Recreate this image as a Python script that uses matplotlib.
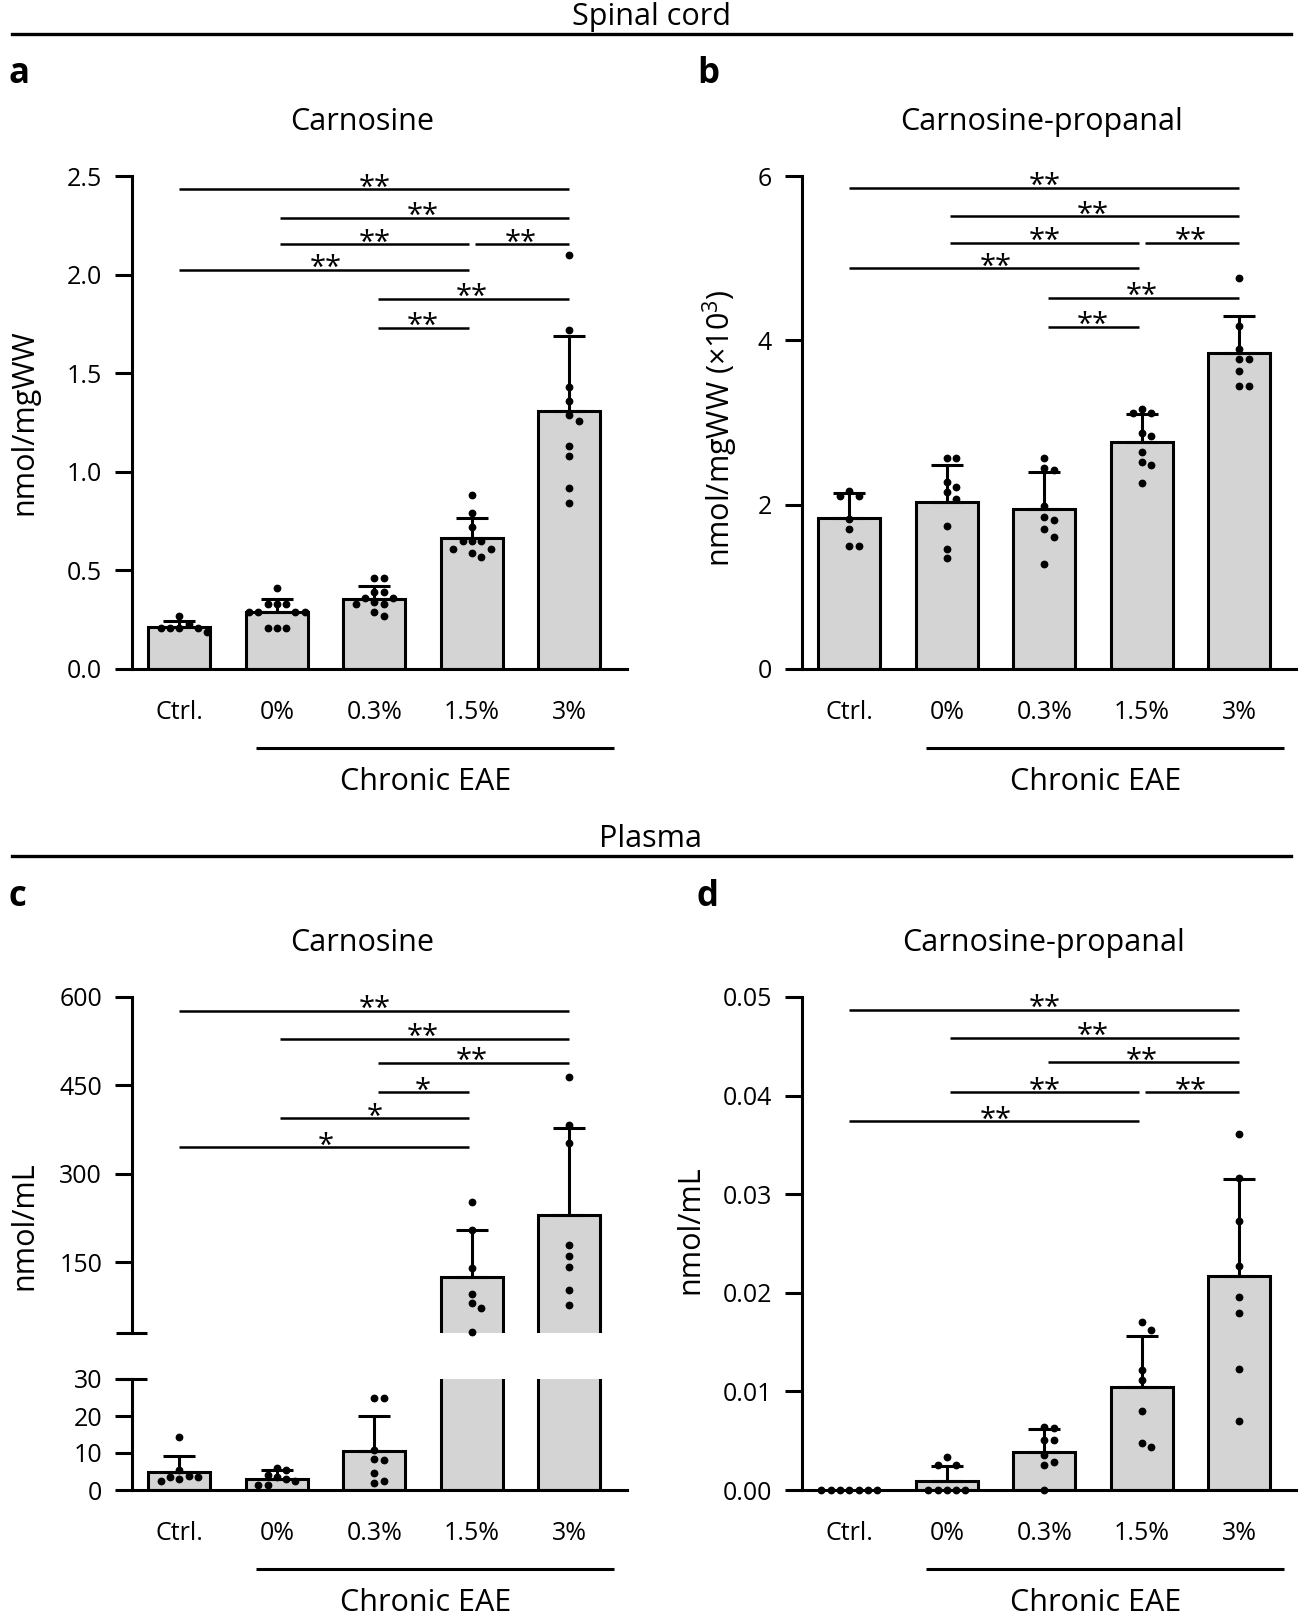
import matplotlib
matplotlib.use('Agg')
import matplotlib.pyplot as plt
import matplotlib.transforms as mtransforms
from matplotlib.lines import Line2D

plt.rcParams['font.family'] = ['Open Sans', 'DejaVu Sans']
plt.rcParams['mathtext.fontset'] = 'custom'
plt.rcParams['mathtext.rm'] = 'Open Sans'

W, H = 1298, 1613

groups = ['Ctrl.', '0%', '0.3%', '1.5%', '3%']

# a: spinal cord carnosine (nmol/mgWW)
sc_carn_mean = [0.211, 0.287, 0.355, 0.662, 1.307]
sc_carn_sd = [0.034, 0.066, 0.065, 0.105, 0.382]
sc_carn_pts = [
    [0.27, 0.23, 0.21, 0.21, 0.21, 0.21, 0.19],
    [0.41, 0.33, 0.33, 0.33, 0.29, 0.29, 0.29, 0.29, 0.21, 0.21, 0.21],
    [0.46, 0.46, 0.39, 0.39, 0.36, 0.36, 0.34, 0.33, 0.33, 0.29, 0.27],
    [0.88, 0.79, 0.72, 0.65, 0.65, 0.65, 0.61, 0.61, 0.59, 0.57],
    [2.10, 1.72, 1.43, 1.36, 1.29, 1.26, 1.13, 1.08, 0.92, 0.84],
]
sc_carn_sig = [(0, 4, 2.432, '**'), (1, 4, 2.288, '**'), (1, 3, 2.153, '**'),
               (3, 4, 2.153, '**'), (0, 3, 2.025, '**'), (2, 4, 1.878, '**'),
               (2, 3, 1.729, '**')]

# b: spinal cord carnosine-propanal (nmol/mgWW x10^3)
sc_cp_mean = [1.833, 2.037, 1.951, 2.767, 3.844]
sc_cp_sd = [0.305, 0.447, 0.447, 0.342, 0.456]
sc_cp_pts = [
    [2.17, 2.11, 2.10, 1.83, 1.70, 1.50, 1.50],
    [2.57, 2.57, 2.27, 2.22, 2.16, 2.07, 1.74, 1.46, 1.35],
    [2.57, 2.45, 2.42, 1.98, 1.85, 1.81, 1.70, 1.61, 1.28],
    [3.17, 3.12, 3.12, 2.87, 2.83, 2.64, 2.52, 2.48, 2.26],
    [4.76, 4.18, 3.89, 3.77, 3.77, 3.63, 3.44, 3.44],
]
sc_cp_sig = [(0, 4, 5.855, '**'), (1, 4, 5.51, '**'), (1, 3, 5.185, '**'),
             (3, 4, 5.185, '**'), (0, 3, 4.876, '**'), (2, 4, 4.52, '**'),
             (2, 3, 4.165, '**')]

# c: plasma carnosine (nmol/mL), broken axis
pl_carn_mean = [4.8, 3.0, 10.5, 124.6, 230.6]
pl_carn_sd = [4.5, 2.3, 9.5, 80.4, 147.4]
pl_carn_pts = [
    [14.3, 5.5, 3.8, 3.6, 3.5, 3.0, 2.5],
    [5.9, 5.5, 4.1, 3.6, 3.0, 2.5, 1.4, 1.4],
    [25.0, 24.8, 10.9, 8.5, 8.0, 4.5, 2.5, 2.0],
    [252, 205, 141, 96, 81, 73, 31],
    [464, 383, 352, 179, 161, 142, 103, 78],
]
pl_carn_sig = [(0, 4, 577, '**'), (1, 4, 529, '**'), (2, 4, 488, '**'),
               (2, 3, 438, '*'), (1, 3, 394, '*'), (0, 3, 345, '*')]

# d: plasma carnosine-propanal (nmol/mL)
pl_cp_mean = [0.0, 0.00091, 0.00382, 0.01042, 0.02175]
pl_cp_sd = [0.0, 0.00156, 0.00234, 0.00521, 0.00981]
pl_cp_pts = [
    [0, 0, 0, 0, 0, 0, 0],
    [0.0033, 0.0025, 0.0025, 0, 0, 0, 0, 0],
    [0.0064, 0.0063, 0.0051, 0.0051, 0.0036, 0.0028, 0.0025, 0],
    [0.0170, 0.0162, 0.0122, 0.0112, 0.0080, 0.0048, 0.0044],
    [0.0361, 0.0316, 0.0273, 0.0227, 0.0196, 0.0180, 0.0123, 0.0070],
]
pl_cp_sig = [(0, 4, 0.04871, '**'), (1, 4, 0.04584, '**'), (2, 4, 0.04337, '**'),
             (1, 3, 0.04032, '**'), (3, 4, 0.04032, '**'), (0, 3, 0.03738, '**')]

XLIM = (-0.485, 4.59)
LW = 2.2
BAR_W = 0.635
BAR_COLOR = '#d4d4d4'
TICK_FS = 18
LABEL_FS = 22


def px_box(left, top, right, bottom):
    return [left / W, 1 - bottom / H, (right - left) / W, (bottom - top) / H]


def swarm_x(ax, xc, values, spacing=9.3):
    # simple beeswarm in pixel space
    pos = ax.get_position()
    ylo, yhi = ax.get_ylim()
    yscale = pos.height * H / (yhi - ylo)
    xscale = pos.width * W / (XLIM[1] - XLIM[0])
    cands = [0] + [s * i for i in range(1, 10) for s in (1, -1)]
    placed, xs = [], []
    for v in values:
        py = (v - ylo) * yscale
        for c in cands:
            px = c * spacing
            if all((px - qx) ** 2 + (py - qy) ** 2 >= (spacing * 0.9) ** 2 for qx, qy in placed):
                break
        placed.append((px, py))
        xs.append(xc + px / xscale)
    return xs


def style_axes(ax, ylim, yticks, fmt, xlabels=True):
    ax.set_xlim(XLIM)
    ax.set_ylim(ylim)
    ax.spines[['top', 'right']].set_visible(False)
    ax.spines['left'].set_linewidth(LW)
    ax.spines['bottom'].set_linewidth(LW)
    ax.set_yticks(yticks)
    ax.set_yticklabels([fmt.format(t) for t in yticks])
    ax.tick_params(axis='y', length=12.5, width=LW, pad=9, labelsize=TICK_FS)
    ax.set_xticks(range(len(groups)))
    if xlabels:
        ax.set_xticklabels(groups)
        ax.tick_params(axis='x', length=0, pad=22, labelsize=TICK_FS)
    else:
        ax.set_xticklabels([])
        ax.tick_params(axis='x', length=0)
        ax.spines['bottom'].set_visible(False)


def draw_bars(ax, means, sds, pts, lo=None, hi=None):
    x = list(range(len(means)))
    ax.bar(x, means, width=BAR_W, color=BAR_COLOR, edgecolor='black',
           linewidth=LW, zorder=1)
    for i in x:
        if sds[i] > 0:
            ax.errorbar(i, means[i], yerr=[[0], [sds[i]]], fmt='none', ecolor='black',
                        elinewidth=LW, capsize=11.5, capthick=LW, zorder=2)
        vals = [v for v in pts[i] if (lo is None or v >= lo) and (hi is None or v <= hi)]
        if vals:
            xs = swarm_x(ax, i, vals)
            ax.plot(xs, vals, 'o', color='black', markersize=4.6, zorder=3, clip_on=False)


def draw_sig(ax, comps, gap=0.035):
    for i, j, y, lab in comps:
        ax.plot([i + (gap if i > 0 else 0), j - (gap if j < 4 else 0)], [y, y],
                color='black', lw=1.8, clip_on=False, solid_capstyle='butt')
        ax.annotate(lab, ((i + j) / 2, y), xytext=(0, -4.5), textcoords='offset points',
                    ha='center', va='baseline', fontsize=21, annotation_clip=False)


def group_bracket(ax):
    tr = mtransforms.blended_transform_factory(ax.transData, ax.transAxes)
    tr_line = tr + mtransforms.ScaledTranslation(0, -79 / 100, fig.dpi_scale_trans)
    tr_text = tr + mtransforms.ScaledTranslation(0, -113 / 100, fig.dpi_scale_trans)
    ax.plot([0.79, 4.46], [0, 0], color='black', lw=LW, transform=tr_line,
            clip_on=False, solid_capstyle='butt')
    ax.text(2.53, 0, 'Chronic EAE', transform=tr_text, ha='center', va='center',
            fontsize=LABEL_FS)


def break_mark(ax, y):
    x0 = -16 / (ax.get_position().width * W)
    x1 = 15 / (ax.get_position().width * W)
    ax.plot([x0, x1], [y, y], color='black', lw=LW, transform=ax.transAxes,
            clip_on=False, solid_capstyle='butt')


fig = plt.figure(figsize=(W / 100, H / 100), dpi=100)

# section headers
for label, ty, ly in [('Spinal cord', 17, 34), ('Plasma', 839, 856)]:
    fig.text(651 / W, 1 - ty / H, label, ha='center', va='center', fontsize=LABEL_FS)
    fig.add_artist(Line2D([12 / W, 1291 / W], [1 - ly / H, 1 - ly / H], color='black', lw=2.4))

for letter, lx, ly in [('a', 8, 74), ('b', 697, 74), ('c', 8, 897), ('d', 697, 897)]:
    fig.text(lx / W, 1 - ly / H, letter, ha='left', va='center', fontsize=25,
             fontweight='bold')

for title, tx, ty in [('Carnosine', 362, 122), ('Carnosine-propanal', 1041, 122),
                      ('Carnosine', 362, 943), ('Carnosine-propanal', 1044, 943)]:
    fig.text(tx / W, 1 - ty / H, title, ha='center', va='center', fontsize=LABEL_FS)

for ylab, lx, ly in [('nmol/mgWW', 24, 422), ('nmol/mgWW (×10$^{3}$)', 720, 428),
                     ('nmol/mL', 24, 1226), ('nmol/mL', 690, 1230)]:
    fig.text(lx / W, 1 - ly / H, ylab, ha='center', va='center', rotation=90,
             fontsize=LABEL_FS)

# a
ax_a = fig.add_axes(px_box(132, 176, 627, 669))
style_axes(ax_a, (0, 2.5), [0, 0.5, 1.0, 1.5, 2.0, 2.5], '{:.1f}')
draw_bars(ax_a, sc_carn_mean, sc_carn_sd, sc_carn_pts)
draw_sig(ax_a, sc_carn_sig)
group_bracket(ax_a)

# b
ax_b = fig.add_axes(px_box(802, 176, 1297, 669))
style_axes(ax_b, (0, 6), [0, 2, 4, 6], '{:d}')
draw_bars(ax_b, sc_cp_mean, sc_cp_sd, sc_cp_pts)
draw_sig(ax_b, sc_cp_sig)
group_bracket(ax_b)

# c, broken axis
ax_cu = fig.add_axes(px_box(132, 997, 627, 1333))
style_axes(ax_cu, (30, 600), [150, 300, 450, 600], '{:d}', xlabels=False)
draw_bars(ax_cu, pl_carn_mean, pl_carn_sd, pl_carn_pts, lo=30)
draw_sig(ax_cu, pl_carn_sig)
break_mark(ax_cu, 0)

ax_cl = fig.add_axes(px_box(132, 1379, 627, 1490))
style_axes(ax_cl, (0, 30), [0, 10, 20, 30], '{:d}')
draw_bars(ax_cl, pl_carn_mean, pl_carn_sd, pl_carn_pts, hi=30)
break_mark(ax_cl, 1)
group_bracket(ax_cl)

# d
ax_d = fig.add_axes(px_box(802, 997, 1297, 1490))
style_axes(ax_d, (0, 0.05), [0, 0.01, 0.02, 0.03, 0.04, 0.05], '{:.2f}')
draw_bars(ax_d, pl_cp_mean, pl_cp_sd, pl_cp_pts)
draw_sig(ax_d, pl_cp_sig)
group_bracket(ax_d)

fig.savefig('out.png', dpi=100)
